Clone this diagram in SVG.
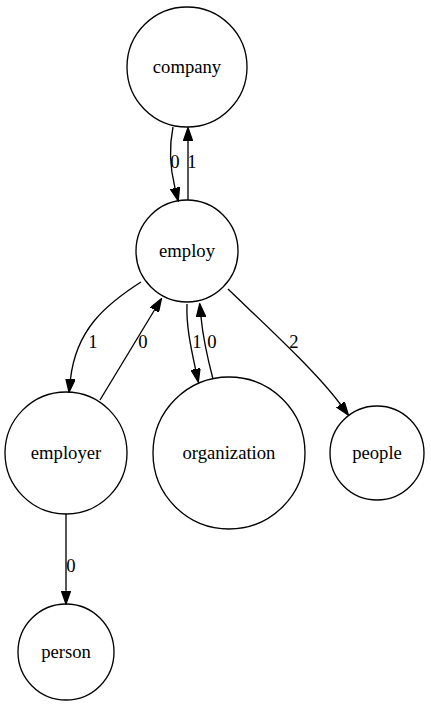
<svg xmlns="http://www.w3.org/2000/svg" width="431" height="706" viewBox="0 0 431 706">
<style>
.node circle{fill:none;stroke:#000;stroke-width:1.33}
text{font-family:'Liberation Serif','Times New Roman',serif;font-size:18.67px;fill:#000}
.node text{text-anchor:middle}
.edge path{fill:none;stroke:#000;stroke-width:1.33;marker-end:url(#arr)}
.lbl{text-anchor:middle}
</style>
<defs>
<marker id="arr" markerUnits="userSpaceOnUse" markerWidth="14" markerHeight="10" viewBox="0 -5 14 10" refX="0" refY="0" orient="auto">
<path d="M0,-4.67 L13.3,0 L0,4.67 z" fill="#000" stroke="#000" stroke-width="1.33"/>
</marker>
</defs>
<rect width="431" height="706" fill="#fff"/>
<g id="edges" class="edge" font-family="Liberation Serif, serif">
<path d="M173,127 C169,147 170,168 175,188"/>
<text class="lbl" x="175" y="168">0</text>
<path d="M188,200 L188,141"/>
<text class="lbl" x="192" y="168">1</text>
<path d="M141,282 C105,305 76,330 70.5,379"/>
<text class="lbl" x="93" y="348">1</text>
<path d="M100,400 L154.5,310"/>
<text class="lbl" x="143" y="348">0</text>
<path d="M187,304 C186,325 191,348 195.5,369"/>
<text class="lbl" x="197" y="348">1</text>
<path d="M213,379 C208,360 203,338 201,317"/>
<text class="lbl" x="212" y="348">0</text>
<path d="M228,289 C260,320 315,370 340.5,404.5"/>
<text class="lbl" x="294" y="348">2</text>
<path d="M66,514 L66,590.7"/>
<text class="lbl" x="71" y="572">0</text>
</g>
<g id="company" class="node" font-family="Liberation Serif, serif"><circle cx="187" cy="67" r="60"/><text x="187" y="73">company</text></g>
<g id="employ" class="node" font-family="Liberation Serif, serif"><circle cx="187" cy="251" r="51"/><text x="187" y="257">employ</text></g>
<g id="employer" class="node" font-family="Liberation Serif, serif"><circle cx="66" cy="453" r="61"/><text x="66" y="459">employer</text></g>
<g id="organization" class="node" font-family="Liberation Serif, serif"><circle cx="229" cy="453" r="76"/><text x="229" y="459">organization</text></g>
<g id="people" class="node" font-family="Liberation Serif, serif"><circle cx="377" cy="453" r="47"/><text x="377" y="459">people</text></g>
<g id="person" class="node" font-family="Liberation Serif, serif"><circle cx="66" cy="652" r="48"/><text x="66" y="658">person</text></g>
</svg>
